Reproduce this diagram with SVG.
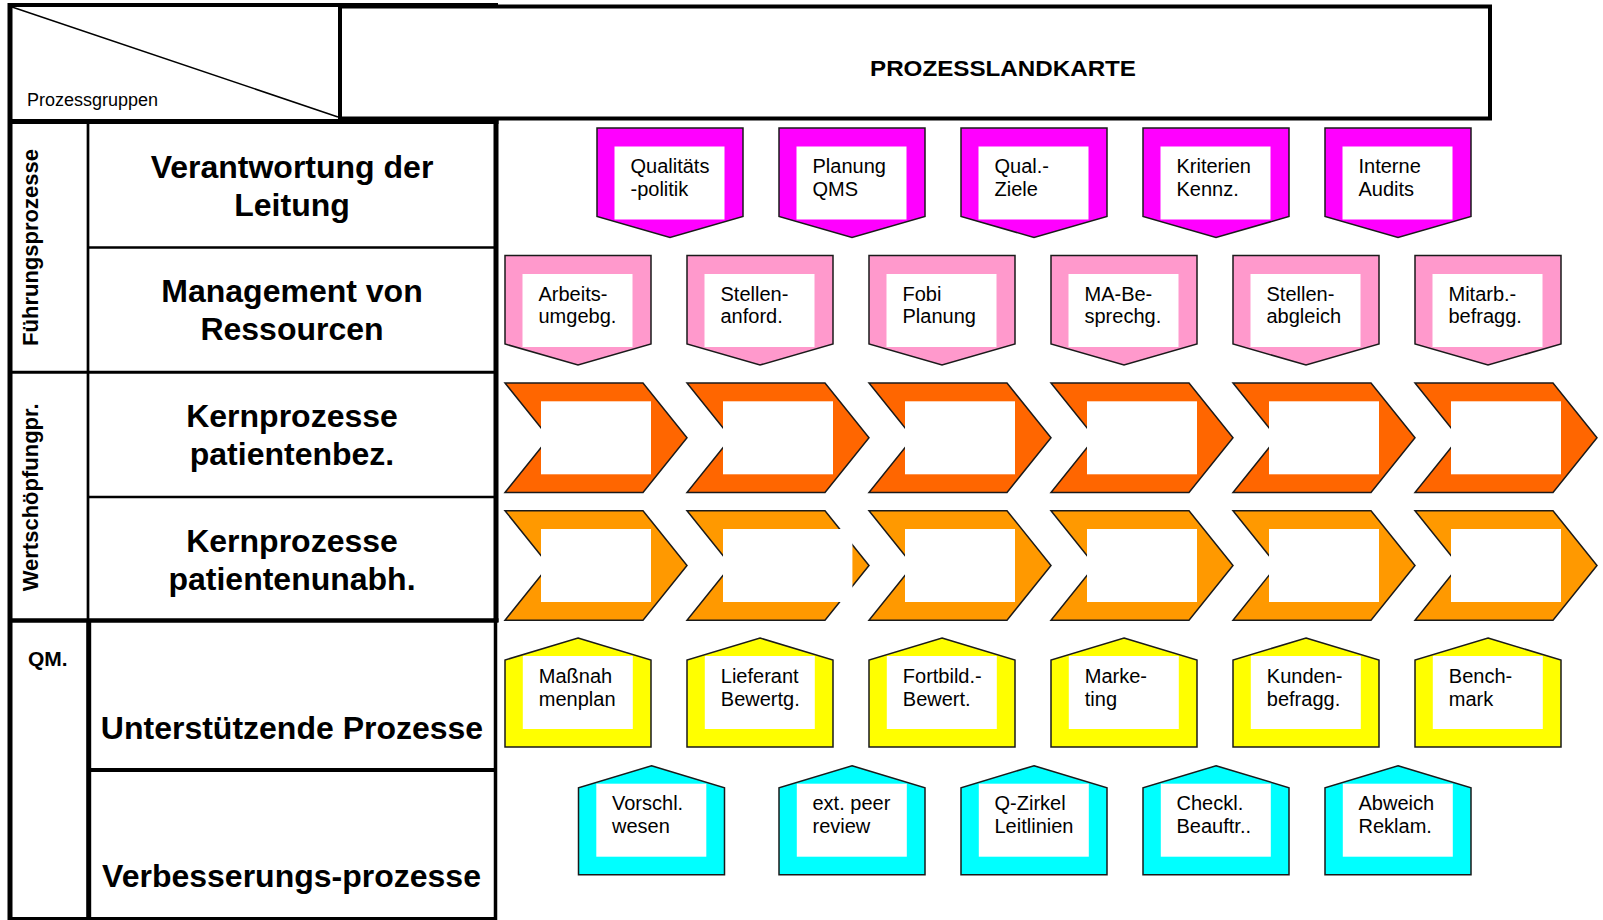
<svg xmlns="http://www.w3.org/2000/svg" xmlns:xlink="http://www.w3.org/1999/xlink" width="1603" height="920" viewBox="0 0 1603 920">
<style>
text{font-family:"Liberation Sans",Arial,Helvetica,sans-serif;fill:#000}
.n{font-size:20px}
.h{font-size:32px;font-weight:bold;text-anchor:middle}
.g{font-size:22px;font-weight:bold;text-anchor:middle}
.sh{stroke:#1a1a1a;stroke-width:1.5;stroke-linejoin:miter}
.mag{fill:#FF00FF}
.pink{fill:#FF99CC}
.or1{fill:#FF6600}
.or2{fill:#FF9900}
.yel{fill:#FFFF00}
.cyan{fill:#00FFFF}
.in{fill:#fff}
.tl{stroke:#000;fill:none}
</style>
<defs>
<polygon id="pd" points="0,0 146,0 146,88.5 73,109.5 0,88.5"/>
<polygon id="ch" points="0,0 138,0 182,54.75 138,109.5 0,109.5 44,54.75"/>
<polygon id="hu" points="73,0 146,22 146,109 0,109 0,22"/>
</defs>
<rect width="1603" height="920" fill="#fff"/>

<g id="table">
<line class="tl" x1="8" y1="5" x2="498" y2="5" stroke-width="4"/>
<line class="tl" x1="10" y1="3" x2="10" y2="920" stroke-width="5"/>
<line class="tl" x1="340" y1="5" x2="340" y2="121" stroke-width="4"/>
<line class="tl" x1="12" y1="7" x2="338" y2="117" stroke-width="1.5"/>
<line class="tl" x1="8" y1="121.5" x2="498.5" y2="121.5" stroke-width="5"/>
<line class="tl" x1="496" y1="119" x2="496" y2="622" stroke-width="5"/>
<line class="tl" x1="495.5" y1="618" x2="495.5" y2="920" stroke-width="3.5"/>
<line class="tl" x1="88" y1="121" x2="88" y2="620" stroke-width="2.7"/>
<line class="tl" x1="88.7" y1="620" x2="88.7" y2="920" stroke-width="5"/>
<line class="tl" x1="88" y1="247.5" x2="496" y2="247.5" stroke-width="2.7"/>
<line class="tl" x1="8" y1="372.3" x2="496" y2="372.3" stroke-width="3"/>
<line class="tl" x1="88" y1="497" x2="496" y2="497" stroke-width="2.7"/>
<line class="tl" x1="8" y1="620.5" x2="498.5" y2="620.5" stroke-width="4.5"/>
<line class="tl" x1="88" y1="770" x2="496" y2="770" stroke-width="4"/>
<line class="tl" x1="8" y1="918.5" x2="497" y2="918.5" stroke-width="3"/>
<text x="27" y="106" font-size="18">Prozessgruppen</text>
<text class="g" transform="translate(37.5,247.5) rotate(-90)">Führungsprozesse</text>
<text class="g" transform="translate(37.5,497.4) rotate(-90)">Wertschöpfungpr.</text>
<text x="28" y="666" font-size="21" font-weight="bold">QM.</text>
</g>

<g id="title">
<rect x="340" y="6.5" width="1150" height="112" fill="none" stroke="#000" stroke-width="4"/>
<text x="1003" y="76" font-size="22" font-weight="bold" text-anchor="middle" textLength="266" lengthAdjust="spacingAndGlyphs">PROZESSLANDKARTE</text>
</g>

<g id="row-labels">
<g id="lbl-verantwortung"><text class="h"><tspan x="292" y="177.5">Verantwortung der</tspan><tspan x="292" y="215.5">Leitung</tspan></text></g>
<g id="lbl-management"><text class="h"><tspan x="292" y="302">Management von</tspan><tspan x="292" y="340">Ressourcen</tspan></text></g>
<g id="lbl-kern1"><text class="h"><tspan x="292" y="427">Kernprozesse</tspan><tspan x="292" y="465">patientenbez.</tspan></text></g>
<g id="lbl-kern2"><text class="h"><tspan x="292" y="552">Kernprozesse</tspan><tspan x="292" y="589.5">patientenunabh.</tspan></text></g>
<g id="lbl-unterstuetzend"><text class="h" x="292" y="738.5">Unterstützende Prozesse</text></g>
<g id="lbl-verbesserung"><text class="h" x="291.5" y="886.5">Verbesserungs-prozesse</text></g>
</g>

<g id="connectors"></g>

<!-- Magenta row -->
<g id="n-qualitaetspolitik" transform="translate(597,128)"><use xlink:href="#pd" class="sh mag"/><rect class="in" x="17.5" y="18.5" width="110" height="73"/><text class="n"><tspan x="33.5" y="45">Qualitäts</tspan><tspan x="33.5" y="67.5">-politik</tspan></text></g>
<g id="n-planung-qms" transform="translate(779,128)"><use xlink:href="#pd" class="sh mag"/><rect class="in" x="17.5" y="18.5" width="110" height="73"/><text class="n"><tspan x="33.5" y="45">Planung</tspan><tspan x="33.5" y="67.5">QMS</tspan></text></g>
<g id="n-qual-ziele" transform="translate(961,128)"><use xlink:href="#pd" class="sh mag"/><rect class="in" x="17.5" y="18.5" width="110" height="73"/><text class="n"><tspan x="33.5" y="45">Qual.-</tspan><tspan x="33.5" y="67.5">Ziele</tspan></text></g>
<g id="n-kriterien" transform="translate(1143,128)"><use xlink:href="#pd" class="sh mag"/><rect class="in" x="17.5" y="18.5" width="110" height="73"/><text class="n"><tspan x="33.5" y="45">Kriterien</tspan><tspan x="33.5" y="67.5">Kennz.</tspan></text></g>
<g id="n-interne-audits" transform="translate(1325,128)"><use xlink:href="#pd" class="sh mag"/><rect class="in" x="17.5" y="18.5" width="110" height="73"/><text class="n"><tspan x="33.5" y="45">Interne</tspan><tspan x="33.5" y="67.5">Audits</tspan></text></g>

<!-- Pink row -->
<g id="n-arbeitsumgebg" transform="translate(505,255.5)"><use xlink:href="#pd" class="sh pink"/><rect class="in" x="17.5" y="18.5" width="110" height="73"/><text class="n"><tspan x="33.5" y="45">Arbeits-</tspan><tspan x="33.5" y="67.5">umgebg.</tspan></text></g>
<g id="n-stellenanford" transform="translate(687,255.5)"><use xlink:href="#pd" class="sh pink"/><rect class="in" x="17.5" y="18.5" width="110" height="73"/><text class="n"><tspan x="33.5" y="45">Stellen-</tspan><tspan x="33.5" y="67.5">anford.</tspan></text></g>
<g id="n-fobi-planung" transform="translate(869,255.5)"><use xlink:href="#pd" class="sh pink"/><rect class="in" x="17.5" y="18.5" width="110" height="73"/><text class="n"><tspan x="33.5" y="45">Fobi</tspan><tspan x="33.5" y="67.5">Planung</tspan></text></g>
<g id="n-ma-besprechg" transform="translate(1051,255.5)"><use xlink:href="#pd" class="sh pink"/><rect class="in" x="17.5" y="18.5" width="110" height="73"/><text class="n"><tspan x="33.5" y="45">MA-Be-</tspan><tspan x="33.5" y="67.5">sprechg.</tspan></text></g>
<g id="n-stellenabgleich" transform="translate(1233,255.5)"><use xlink:href="#pd" class="sh pink"/><rect class="in" x="17.5" y="18.5" width="110" height="73"/><text class="n"><tspan x="33.5" y="45">Stellen-</tspan><tspan x="33.5" y="67.5">abgleich</tspan></text></g>
<g id="n-mitarb-befragg" transform="translate(1415,255.5)"><use xlink:href="#pd" class="sh pink"/><rect class="in" x="17.5" y="18.5" width="110" height="73"/><text class="n"><tspan x="33.5" y="45">Mitarb.-</tspan><tspan x="33.5" y="67.5">befragg.</tspan></text></g>

<!-- Chevron row 1 -->
<g id="n-kp1-1" transform="translate(505,383)"><use xlink:href="#ch" class="sh or1"/><rect class="in" x="36" y="18.3" width="110" height="73"/></g>
<g id="n-kp1-2" transform="translate(687,383)"><use xlink:href="#ch" class="sh or1"/><rect class="in" x="36" y="18.3" width="110" height="73"/></g>
<g id="n-kp1-3" transform="translate(869,383)"><use xlink:href="#ch" class="sh or1"/><rect class="in" x="36" y="18.3" width="110" height="73"/></g>
<g id="n-kp1-4" transform="translate(1051,383)"><use xlink:href="#ch" class="sh or1"/><rect class="in" x="36" y="18.3" width="110" height="73"/></g>
<g id="n-kp1-5" transform="translate(1233,383)"><use xlink:href="#ch" class="sh or1"/><rect class="in" x="36" y="18.3" width="110" height="73"/></g>
<g id="n-kp1-6" transform="translate(1415,383)"><use xlink:href="#ch" class="sh or1"/><rect class="in" x="36" y="18.3" width="110" height="73"/></g>

<!-- Chevron row 2 -->
<g id="n-kp2-1" transform="translate(505,510.7)"><use xlink:href="#ch" class="sh or2"/><rect class="in" x="36" y="18.3" width="110" height="73"/></g>
<g id="n-kp2-2" transform="translate(687,510.7)"><use xlink:href="#ch" class="sh or2"/><rect class="in" x="36" y="18.3" width="129.4" height="73"/></g>
<g id="n-kp2-3" transform="translate(869,510.7)"><use xlink:href="#ch" class="sh or2"/><rect class="in" x="36" y="18.3" width="110" height="73"/></g>
<g id="n-kp2-4" transform="translate(1051,510.7)"><use xlink:href="#ch" class="sh or2"/><rect class="in" x="36" y="18.3" width="110" height="73"/></g>
<g id="n-kp2-5" transform="translate(1233,510.7)"><use xlink:href="#ch" class="sh or2"/><rect class="in" x="36" y="18.3" width="110" height="73"/></g>
<g id="n-kp2-6" transform="translate(1415,510.7)"><use xlink:href="#ch" class="sh or2"/><rect class="in" x="36" y="18.3" width="110" height="73"/></g>

<!-- Yellow row -->
<g id="n-massnahmenplan" transform="translate(505,638)"><use xlink:href="#hu" class="sh yel"/><rect class="in" x="17.8" y="18" width="110" height="73"/><text class="n"><tspan x="33.8" y="45.3">Maßnah</tspan><tspan x="33.8" y="68">menplan</tspan></text></g>
<g id="n-lieferant" transform="translate(687,638)"><use xlink:href="#hu" class="sh yel"/><rect class="in" x="17.8" y="18" width="110" height="73"/><text class="n"><tspan x="33.8" y="45.3">Lieferant</tspan><tspan x="33.8" y="68">Bewertg.</tspan></text></g>
<g id="n-fortbild" transform="translate(869,638)"><use xlink:href="#hu" class="sh yel"/><rect class="in" x="17.8" y="18" width="110" height="73"/><text class="n"><tspan x="33.8" y="45.3">Fortbild.-</tspan><tspan x="33.8" y="68">Bewert.</tspan></text></g>
<g id="n-marketing" transform="translate(1051,638)"><use xlink:href="#hu" class="sh yel"/><rect class="in" x="17.8" y="18" width="110" height="73"/><text class="n"><tspan x="33.8" y="45.3">Marke-</tspan><tspan x="33.8" y="68">ting</tspan></text></g>
<g id="n-kundenbefragg" transform="translate(1233,638)"><use xlink:href="#hu" class="sh yel"/><rect class="in" x="17.8" y="18" width="110" height="73"/><text class="n"><tspan x="33.8" y="45.3">Kunden-</tspan><tspan x="33.8" y="68">befragg.</tspan></text></g>
<g id="n-benchmark" transform="translate(1415,638)"><use xlink:href="#hu" class="sh yel"/><rect class="in" x="17.8" y="18" width="110" height="73"/><text class="n"><tspan x="33.8" y="45.3">Bench-</tspan><tspan x="33.8" y="68">mark</tspan></text></g>

<!-- Cyan row -->
<g id="n-vorschlagswesen" transform="translate(578.5,765.7)"><use xlink:href="#hu" class="sh cyan"/><rect class="in" x="17.8" y="18" width="110" height="73"/><text class="n"><tspan x="33.5" y="44.5">Vorschl.</tspan><tspan x="33.5" y="67">wesen</tspan></text></g>
<g id="n-peer-review" transform="translate(779,765.7)"><use xlink:href="#hu" class="sh cyan"/><rect class="in" x="17.8" y="18" width="110" height="73"/><text class="n"><tspan x="33.5" y="44.5">ext. peer</tspan><tspan x="33.5" y="67">review</tspan></text></g>
<g id="n-q-zirkel" transform="translate(961,765.7)"><use xlink:href="#hu" class="sh cyan"/><rect class="in" x="17.8" y="18" width="110" height="73"/><text class="n"><tspan x="33.5" y="44.5">Q-Zirkel</tspan><tspan x="33.5" y="67">Leitlinien</tspan></text></g>
<g id="n-checkl" transform="translate(1143,765.7)"><use xlink:href="#hu" class="sh cyan"/><rect class="in" x="17.8" y="18" width="110" height="73"/><text class="n"><tspan x="33.5" y="44.5">Checkl.</tspan><tspan x="33.5" y="67">Beauftr..</tspan></text></g>
<g id="n-abweich" transform="translate(1325,765.7)"><use xlink:href="#hu" class="sh cyan"/><rect class="in" x="17.8" y="18" width="110" height="73"/><text class="n"><tspan x="33.5" y="44.5">Abweich</tspan><tspan x="33.5" y="67">Reklam.</tspan></text></g>
</svg>
